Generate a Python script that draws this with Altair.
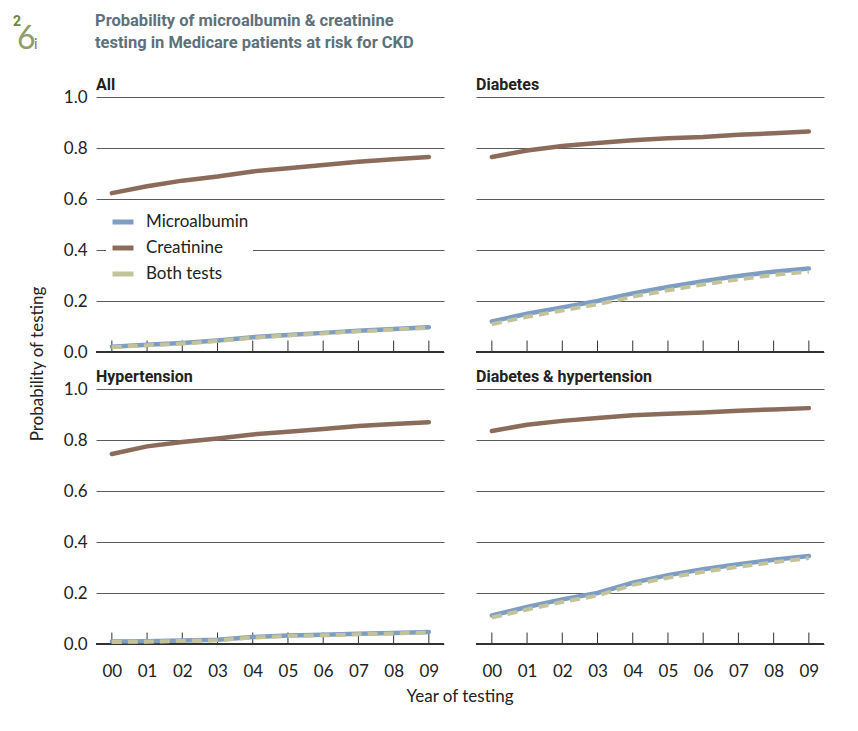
import altair as alt
import pandas as pd

years = list(range(10))
panels = ["All", "Diabetes", "Hypertension", "Diabetes & hypertension"]
panel_row = ["top", "top", "bottom", "bottom"]
panel_col = ["left", "right", "left", "right"]
series_names = ["Microalbumin", "Creatinine", "Both tests"]
series_colors = ["#7d9dc2", "#8b6c5b", "#c2c39b"]

title_lines = ["Probability of microalbumin & creatinine",
               "testing in Medicare patients at risk for CKD"]
fig_parts = ["2", "6", "i"]

all_micro = [0.021, 0.028, 0.035, 0.045, 0.058, 0.067, 0.075, 0.083, 0.090, 0.097]
all_creat = [0.623, 0.650, 0.672, 0.688, 0.708, 0.721, 0.733, 0.746, 0.756, 0.765]
all_both = [0.019, 0.026, 0.033, 0.043, 0.056, 0.065, 0.073, 0.081, 0.088, 0.095]

dm_micro = [0.120, 0.150, 0.175, 0.200, 0.230, 0.255, 0.278, 0.298, 0.315, 0.327]
dm_creat = [0.765, 0.790, 0.808, 0.820, 0.830, 0.838, 0.843, 0.852, 0.858, 0.865]
dm_both = [0.109, 0.138, 0.163, 0.187, 0.217, 0.242, 0.265, 0.285, 0.302, 0.315]

htn_micro = [0.010, 0.011, 0.014, 0.017, 0.027, 0.033, 0.036, 0.040, 0.043, 0.047]
htn_creat = [0.745, 0.775, 0.792, 0.806, 0.822, 0.832, 0.843, 0.855, 0.863, 0.870]
htn_both = [0.008, 0.009, 0.012, 0.015, 0.025, 0.031, 0.034, 0.038, 0.041, 0.045]

dh_micro = [0.112, 0.145, 0.175, 0.200, 0.240, 0.270, 0.293, 0.313, 0.330, 0.345]
dh_creat = [0.835, 0.860, 0.875, 0.886, 0.897, 0.903, 0.908, 0.915, 0.920, 0.925]
dh_both = [0.104, 0.135, 0.165, 0.190, 0.232, 0.260, 0.283, 0.303, 0.320, 0.337]

values = {
    "All": [all_micro, all_creat, all_both],
    "Diabetes": [dm_micro, dm_creat, dm_both],
    "Hypertension": [htn_micro, htn_creat, htn_both],
    "Diabetes & hypertension": [dh_micro, dh_creat, dh_both],
}

rows = []
for p, r, c in zip(panels, panel_row, panel_col):
    for s, vals in zip(series_names, values[p]):
        for yr, v in zip(years, vals):
            rows.append(dict(panel=p, r=r, c=c, series=s, year=yr, value=v))
df = pd.DataFrame(rows)

LABEL_FONT = "Lato, Open Sans, sans-serif"
BOLD_FONT = "Roboto, sans-serif"
TEXT_COLOR = "#222222"

x = alt.X(
    "year:Q",
    scale=alt.Scale(domain=[-0.45, 9.43], nice=False, zero=False),
    axis=alt.Axis(values=years, labelExpr="'0' + datum.value", domain=False,
                  ticks=False, grid=False, title=None, labelFontSize=17,
                  labelPadding=12, labelColor=TEXT_COLOR, labelFont=LABEL_FONT,
                  labelOverlap=False, labelFlush=False),
)
y = alt.Y(
    "value:Q",
    scale=alt.Scale(domain=[0, 1], nice=False),
    axis=alt.Axis(values=[0, 0.2, 0.4, 0.6, 0.8, 1.0], format=".1f", domain=False,
                  ticks=False, grid=True, gridColor="#5a5a5a", gridWidth=1.2,
                  title=None, labelFontSize=17, labelPadding=8,
                  labelColor=TEXT_COLOR, labelFont=LABEL_FONT),
)
color = alt.Color(
    "series:N",
    scale=alt.Scale(domain=series_names, range=series_colors),
    legend=alt.Legend(
        title=None, orient="none", legendX=10, legendY=192,
        symbolType="stroke", symbolStrokeWidth=5, symbolSize=440,
        labelFontSize=17, labelFont=LABEL_FONT, labelColor=TEXT_COLOR,
        rowPadding=3, fillColor="white", padding=4, labelOffset=10,
    ),
)

solid = alt.Chart().mark_line(strokeWidth=4.5, strokeCap="round").encode(
    x=x, y=y, color=color
).transform_filter(alt.datum.series != "Both tests")

both = alt.Chart().mark_line(strokeWidth=4, strokeDash=[10, 6], strokeCap="butt").encode(
    x=x, y=y, color=color
).transform_filter(alt.datum.series == "Both tests")

base_line = alt.Chart().mark_rule(color="#333333", strokeWidth=1.3).encode(
    y=alt.datum(0)
)

ticks = alt.Chart().mark_rule(color="#333333", strokeWidth=1).encode(
    x=x, y=alt.datum(0), y2=alt.datum(0.045)
).transform_filter(alt.datum.series == "Creatinine")

panel_title = alt.Chart().mark_text(
    align="left", baseline="bottom", fontWeight="bold", fontSize=16,
    font=BOLD_FONT, color=TEXT_COLOR, dy=-4
).encode(
    x=alt.value(0), y=alt.value(0), text="panel:N"
).transform_filter(
    (alt.datum.series == "Creatinine") & (alt.datum.year == 0)
)

panels_chart = alt.layer(
    base_line, ticks, solid, both, panel_title, data=df
).properties(width=348, height=255).facet(
    row=alt.Row("r:N", sort=["top", "bottom"],
                header=alt.Header(labels=False, title="Probability of testing",
                                  titleOrient="left", titleFontSize=17,
                                  titleFont=LABEL_FONT, titleFontWeight="normal",
                                  titleColor=TEXT_COLOR, titlePadding=6)),
    column=alt.Column("c:N", sort=["left", "right"],
                      header=alt.Header(labels=False, title="Year of testing",
                                        titleOrient="bottom", titleFontSize=17,
                                        titleFont=LABEL_FONT, titleFontWeight="normal",
                                        titleColor=TEXT_COLOR, titlePadding=0)),
    spacing={"row": 10, "column": 30},
)

# Header: figure number and two-line title
head_df = pd.DataFrame({"part": fig_parts})
fig2 = alt.Chart(head_df).mark_text(
    align="left", baseline="top", fontSize=14, font=BOLD_FONT, fontWeight="bold",
    color="#6e8440", x=-83, y=2
).encode(text="part:N").transform_filter(alt.datum.part == "2")
fig6 = alt.Chart(head_df).mark_text(
    align="left", baseline="alphabetic", fontSize=32, font=LABEL_FONT,
    color="#8f9e66", x=-79, y=36
).encode(text="part:N").transform_filter(alt.datum.part == "6")
figi = alt.Chart(head_df).mark_text(
    align="left", baseline="alphabetic", fontSize=15, font=LABEL_FONT,
    color="#a0705e", x=-62, y=36
).encode(text="part:N").transform_filter(alt.datum.part == "i")
title_txt = alt.Chart(head_df).mark_text(
    align="left", baseline="top", fontSize=16.5, font=BOLD_FONT, fontWeight="bold",
    color="#5d717b", lineHeight=22, x=-1, y=0, text=title_lines
).transform_filter(alt.datum.part == "2")

header = alt.layer(fig2, fig6, figi, title_txt).properties(width=726, height=44)

chart = alt.vconcat(header, panels_chart, spacing=20).properties(
    background="white", padding=5
).configure_view(stroke=None).configure_axisX(labelOverlap=False)

chart.save("out.html", embed_options={"renderer": "svg", "actions": False})
